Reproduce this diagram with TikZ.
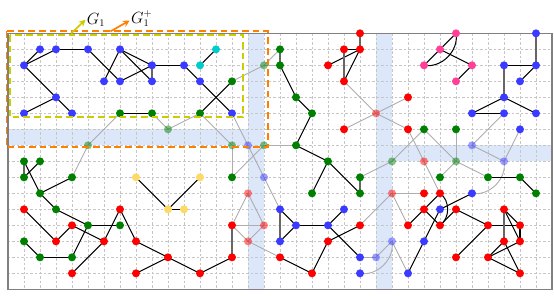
\documentclass[tikz,border=0pt]{standalone}
\usepackage{amsmath}
\usepackage{tikz}
\usepackage{xcolor}
\usetikzlibrary{arrows.meta, calc, positioning}
\definecolor{nodeblue}{HTML}{3B3BFF}
\definecolor{nodered}{HTML}{FF0000}
\definecolor{nodegreen}{HTML}{008000}
\definecolor{nodecyan}{HTML}{00CCCC}
\definecolor{nodepink}{HTML}{FF409A}
\definecolor{nodeyellow}{HTML}{FFD966}
\definecolor{bandblue}{HTML}{DCE7F9}
\definecolor{gonecolor}{HTML}{CCCC00}
\definecolor{gpluscolor}{HTML}{FF8000}
\definecolor{framegray}{HTML}{808080}
\tikzset{
  % vertices
  vtx/.style={circle, fill=#1, draw=none, minimum size=0.25cm, inner sep=0pt},
  fadedvtx/.style={vtx=#1, fill opacity=0.5},
  % edges
  link/.style={line width=0.9pt, black},
  vlink/.style={line width=1.5pt, black!60},
  fadedlink/.style={line width=0.8pt, black!32},
  % background
  band/.style={fill=bandblue, draw=none},
  gridline/.style={gray!45, line width=0.4pt, dash pattern=on 2pt off 2pt},
  frameline/.style={framegray, line width=0.9pt},
  % subgraph boxes
  subbox/.style={draw=#1, line width=1.6pt, dash pattern=on 6pt off 3.5pt},
  subarrow/.style={#1, line width=1.5pt, -{Stealth[length=6pt, width=6pt]}},
  sublabel/.style={font=\fontsize{13.5}{16}\selectfont, inner sep=1pt},
}
\begin{document}
\begin{tikzpicture}[x=0.5cm, y=-0.5cm]
  \useasboundingbox (-0.5,-2.083) rectangle (34.125,16.356);

  % shaded bands
  \fill[band] (0,6) rectangle (16,7);
  \fill[band] (15,0) rectangle (16,16);
  \fill[band] (23,0) rectangle (24,16);
  \fill[band] (24,7) rectangle (34,8);

  % grid and frame
  \foreach \i in {1,...,33} \draw[gridline] (\i,0) -- (\i,16);
  \foreach \j in {1,...,15} \draw[gridline] (0,\j) -- (34,\j);
  \draw[frameline] (0,0) rectangle (34,16);

  % vertices (named, placed first so edges can refer to them)
  \foreach \x/\y in {2/1,3/1,5/1,7/1,1/2,9/2,11/2,6/3,7/3,9/3,12/3,3/4,1/5,4/5,14/5,
      33/0,31/2,33/2,32/3,31/4,29/5,31/5,33/5,32/6,
      17/11,18/12,17/13,20/12,21/11,22/14,22/15,25/15,29/10,27/11,26/13}
    \coordinate (v\x-\y) at (\x,\y);
  \foreach \x/\y in {15/7,16/9,29/7,31/8,23/14,24/13,12/2,13/1,
      7/5,9/5,12/5,14/3,17/1,17/2,18/4,19/5,18/7,20/8,19/10,22/9,22/10,
      26/6,28/6,27/9,30/9,32/9,33/10,1/8,2/8,1/9,4/9,2/10,3/11,5/12,7/12,1/13,2/14,4/14,14/9,
      10/6,16/2,5/7,14/7,16/7,24/8,28/8}
    \coordinate (v\x-\y) at (\x,\y);
  \foreach \x/\y in {22/0,21/1,22/1,20/2,21/3,25/4,21/6,25/6,1/11,4/12,7/11,3/13,6/13,
      8/13,4/15,8/15,10/14,12/15,14/14,14/12,22/12,20/13,17/14,19/15,25/12,26/10,27/10,
      26/11,27/12,28/11,31/11,30/12,32/12,31/13,32/13,28/14,30/14,32/15,
      23/5,15/10,16/12,15/13,24/10,26/8,28/0,27/1,26/2,29/2,28/3,8/9,12/9,10/11,11/11}
    \coordinate (v\x-\y) at (\x,\y);

  % edges
  \foreach \a/\b in {7-5/5-7,5-7/4-9,9-5/10-6,10-6/12-5,12-5/14-7,14-3/16-2,16-2/17-1,
      16-2/17-2,14-5/15-7,15-7/16-9,16-7/14-9,14-7/14-9,16-7/18-7,16-9/17-11,
      14-12/15-10,15-10/16-12,14-12/16-12,16-12/15-13,14-12/15-13,15-13/17-14,
      21-3/23-5,23-5/25-4,23-5/21-6,23-5/25-6,25-6/26-8,26-6/24-8,26-6/28-8,24-8/22-9,
      26-8/27-10,28-6/28-8,28-8/27-9,28-8/30-9,31-5/29-7,29-7/31-8,32-6/31-8,
      24-10/26-10,24-10/22-12,24-10/25-12,22-14/23-14,23-14/24-13,24-13/25-15}
    \draw[fadedlink] (v\a) -- (v\b);
  \draw[fadedlink] (v31-8) to[bend left=55] (v29-10);
  \draw[fadedlink] (v24-13) to[bend left=55] (v22-15);
  \foreach \a/\b in {1-2/2-1,1-2/3-1,3-1/5-1,5-1/7-3,1-2/3-4,3-4/1-5,3-4/4-5,7-1/6-3,
      7-1/9-2,7-1/9-3,7-3/9-2,9-2/11-2,11-2/12-3,12-3/14-5,12-2/13-1,7-5/9-5,12-5/14-3,
      17-2/18-4,18-4/19-5,19-5/18-7,18-7/20-8,20-8/19-10,20-8/22-10,
      21-1/22-1,20-2/22-1,22-1/21-3,
      28-0/27-1,27-1/26-2,27-1/29-2,29-2/28-3,
      31-2/33-2,33-2/32-3,31-4/29-5,31-4/33-5,29-5/31-5,30-9/32-9,32-9/33-10,
      2-8/1-9,1-8/2-10,2-10/4-9,2-10/3-11,3-11/5-12,5-12/7-12,5-12/4-14,1-11/3-13,
      3-13/4-12,4-12/6-13,6-13/7-11,6-13/4-15,7-11/8-13,1-13/2-14,2-14/4-14,8-13/10-14,
      8-15/10-14,10-14/12-15,12-15/14-14,8-9/10-11,12-9/10-11,10-11/11-11,
      17-11/18-12,17-13/18-12,18-12/20-12,20-12/21-11,20-12/22-14,20-13/22-12,
      20-13/19-15,17-14/19-15,27-10/26-11,29-10/27-11,26-11/27-12,27-12/28-11,
      27-11/26-13,26-13/25-15,26-11/25-12,28-11/30-12,30-12/32-12,30-12/28-14,
      31-11/32-12,31-11/32-13,32-12/32-13,31-13/30-14,32-13/30-14,30-14/32-15,31-13/32-15}
    \draw[link] (v\a) -- (v\b);
  \draw[link] (v26-2) to[bend right=55] (v28-0);
  \draw[link] (v27-10) to[bend left=55] (v27-12);
  \foreach \a/\b in {9-2/9-3,17-1/17-2,22-9/22-10,22-0/22-1,21-1/21-3,33-0/33-2,
      31-2/31-4,1-8/1-9,14-14/14-12,17-11/17-13,31-11/31-13}
    \draw[vlink] (v\a) -- (v\b);

  % vertex dots over the edges
  \foreach \x/\y in {2/1,3/1,5/1,7/1,1/2,9/2,11/2,6/3,7/3,9/3,12/3,3/4,1/5,4/5,14/5,
      33/0,31/2,33/2,32/3,31/4,29/5,31/5,33/5,32/6,
      17/11,18/12,17/13,20/12,21/11,22/14,22/15,25/15,29/10,27/11,26/13}
    \node[vtx=nodeblue] (b\x-\y) at (v\x-\y) {};
  \foreach \x/\y in {15/7,16/9,29/7,31/8,23/14,24/13}
    \node[fadedvtx=nodeblue] (b\x-\y) at (v\x-\y) {};
  \foreach \x/\y in {12/2,13/1}
    \node[vtx=nodecyan] (c\x-\y) at (v\x-\y) {};
  \foreach \x/\y in {7/5,9/5,12/5,14/3,17/1,17/2,18/4,19/5,18/7,20/8,19/10,22/9,22/10,
      26/6,28/6,27/9,30/9,32/9,33/10,1/8,2/8,1/9,4/9,2/10,3/11,5/12,7/12,1/13,2/14,4/14,14/9}
    \node[vtx=nodegreen] (g\x-\y) at (v\x-\y) {};
  \foreach \x/\y in {10/6,16/2,5/7,14/7,16/7,24/8,28/8}
    \node[fadedvtx=nodegreen] (g\x-\y) at (v\x-\y) {};
  \foreach \x/\y in {22/0,21/1,22/1,20/2,21/3,25/4,21/6,25/6,1/11,4/12,7/11,3/13,6/13,
      8/13,4/15,8/15,10/14,12/15,14/14,14/12,22/12,20/13,17/14,19/15,25/12,26/10,27/10,
      26/11,27/12,28/11,31/11,30/12,32/12,31/13,32/13,28/14,30/14,32/15}
    \node[vtx=nodered] (r\x-\y) at (v\x-\y) {};
  \foreach \x/\y in {23/5,15/10,16/12,15/13,24/10,26/8}
    \node[fadedvtx=nodered] (r\x-\y) at (v\x-\y) {};
  \foreach \x/\y in {28/0,27/1,26/2,29/2,28/3}
    \node[vtx=nodepink] (p\x-\y) at (v\x-\y) {};
  \foreach \x/\y in {8/9,12/9,10/11,11/11}
    \node[vtx=nodeyellow] (y\x-\y) at (v\x-\y) {};

  % subgraph boxes and labels
  \draw[subbox=gonecolor] (0.1,0.1) rectangle (14.7,5.25);
  \draw[subbox=gpluscolor] (-0.1,-0.15) rectangle (16.23,7.12);
  \node[sublabel] (gonelab) at (5.5,-0.85) {$G_1$};
  \node[sublabel] (gpluslab) at (8.35,-0.9) {$G_1^+$};
  \coordinate (gonefoot) at (3.95,0);
  \coordinate (gplusfoot) at (6.4,-0.12);
  \draw[subarrow=gonecolor] (gonefoot) -- (gonelab.west);
  \draw[subarrow=gpluscolor] (gplusfoot) -- ($(gpluslab.west)+(0,0.1)$);
\end{tikzpicture}
\end{document}
